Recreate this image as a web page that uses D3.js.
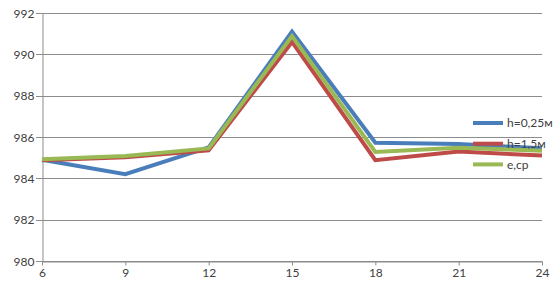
<!DOCTYPE html>
<html>
<head>
<meta charset="utf-8">
<script src="https://cdn.jsdelivr.net/npm/d3@7"></script>
<style>
  body { margin: 0; background: #fff; }
  svg text { font-family: Lato, "Open Sans", sans-serif; font-size: 12px; fill: #404040; }
</style>
</head>
<body>
<div id="chart"></div>
<script>
// hours
const hours = [6, 9, 12, 15, 18, 21, 24];
const yTicks = [980, 982, 984, 986, 988, 990, 992];

const seriesNames = ["h=0,25м", "h=1,5м", "e,ср"];
const seriesColors = ["#4a7ebb", "#be4b48", "#98b954"];

const h025 = [984.9, 984.2, 985.5, 991.1, 985.72, 985.66, 985.45];
const h15 = [984.88, 985.02, 985.35, 990.6, 984.88, 985.3, 985.1];
const eAvg = [984.92, 985.08, 985.45, 990.88, 985.28, 985.48, 985.34];

const allSeries = [h025, h15, eAvg];

const width = 560, height = 289;
const margin = { top: 13, right: 18, bottom: 28, left: 42 };

const svg = d3.select("#chart").append("svg")
  .attr("width", width)
  .attr("height", height);

const x = d3.scaleLinear()
  .domain([6, 24])
  .range([margin.left, width - margin.right]);

const y = d3.scaleLinear()
  .domain([980, 992])
  .range([height - margin.bottom, margin.top]);

// horizontal grid
svg.append("g")
  .selectAll("line")
  .data(yTicks)
  .enter().append("line")
  .attr("x1", margin.left - 6)
  .attr("x2", x(24))
  .attr("y1", d => Math.round(y(d)) + 0.5)
  .attr("y2", d => Math.round(y(d)) + 0.5)
  .attr("stroke", "#8c8c8c")
  .attr("stroke-width", 1);

// y axis
const yAxis = svg.append("g")
  .attr("transform", `translate(${margin.left + 0.5},0)`)
  .call(d3.axisLeft(y).tickValues(yTicks).tickSize(0).tickPadding(8));
yAxis.select(".domain").attr("stroke", "#8c8c8c");
yAxis.selectAll("text").attr("dy", "0.35em");

// x axis
const xAxis = svg.append("g")
  .attr("transform", `translate(0,${Math.round(y(980)) + 0.5})`)
  .call(d3.axisBottom(x).tickValues(hours).tickSize(4).tickPadding(3).tickSizeOuter(0));
xAxis.select(".domain").attr("stroke", "#8c8c8c");
xAxis.selectAll(".tick line").attr("stroke", "#8c8c8c");

// lines
const line = d3.line()
  .x((d, i) => x(hours[i]))
  .y(d => y(d));

svg.append("g")
  .selectAll("path")
  .data(allSeries)
  .enter().append("path")
  .attr("d", line)
  .attr("fill", "none")
  .attr("stroke", (d, i) => seriesColors[i])
  .attr("stroke-width", 4)
  .attr("stroke-linejoin", "miter");

// legend
const legend = svg.append("g")
  .attr("transform", "translate(473,123)");

const item = legend.selectAll("g")
  .data(seriesNames)
  .enter().append("g")
  .attr("transform", (d, i) => `translate(0,${i * 20.7})`);

item.append("line")
  .attr("x1", 0).attr("x2", 30)
  .attr("stroke", (d, i) => seriesColors[i])
  .attr("stroke-width", 4);

item.append("text")
  .attr("x", 34)
  .attr("dy", "0.35em")
  .text(d => d);
</script>
</body>
</html>
